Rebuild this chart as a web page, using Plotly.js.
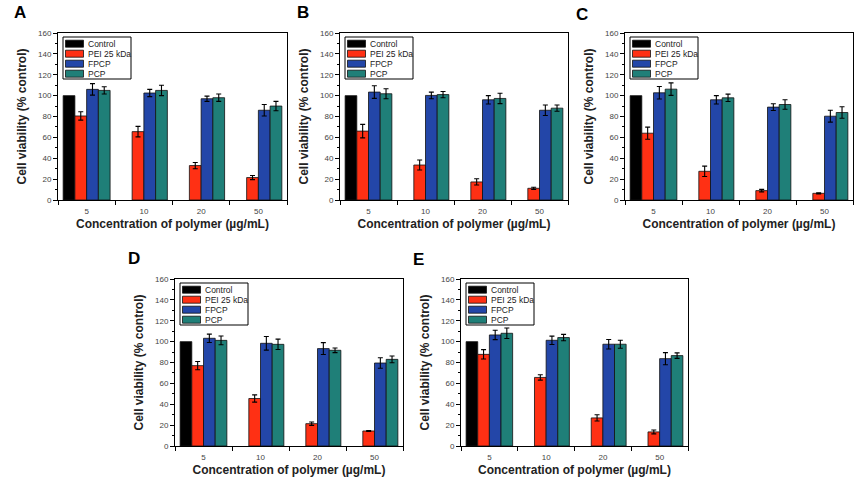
<!DOCTYPE html>
<html>
<head>
<meta charset="utf-8">
<script src="https://cdn.plot.ly/plotly-3.0.1.min.js"></script>
<style>html,body{margin:0;padding:0;background:#fff;}#chart{width:858px;height:484px;}</style>
</head>
<body>
<div id="chart"></div>
<script>
// ---- data ----
const concentrations = ['5', '10', '20', '50'];
const seriesNames = ['Control', 'PEI 25 kDa', 'FPCP', 'PCP'];
const panelLabels = ['A', 'B', 'C', 'D', 'E'];
const xTitle = 'Concentration of polymer (µg/mL)';
const yTitle = 'Cell viability (% control)';
const yTickVals = [0, 20, 40, 60, 80, 100, 120, 140, 160];

const control = [100, null, null, null];

const peiA = [80.5, 65.5, 33, 21.5];
const peiErrA = [4, 5, 3, 2];
const fpcpA = [106, 102.5, 97, 86];
const fpcpErrA = [5.5, 3.5, 2.5, 5.5];
const pcpA = [105, 105, 98, 90];
const pcpErrA = [3.5, 5, 3.5, 4.5];

const peiB = [66, 33.5, 17.3, 11.2];
const peiErrB = [6.5, 4.8, 3, 1];
const fpcpB = [103.4, 100.2, 96, 86];
const fpcpErrB = [6, 3.2, 4, 5];
const pcpB = [101.8, 101, 97.3, 88];
const pcpErrB = [4.8, 3, 5, 3];

const peiC = [64, 27.5, 9, 6.4];
const peiErrC = [5.8, 5, 1.2, 0.5];
const fpcpC = [102.7, 96, 89, 80.3];
const fpcpErrC = [6, 4, 3.2, 5.7];
const pcpC = [106.2, 97.9, 91.5, 83.8];
const pcpErrC = [6, 3.5, 4.5, 5.5];

const peiD = [77, 45.5, 21.4, 14.4];
const peiErrD = [4, 3.5, 1.6, 0.5];
const fpcpD = [103.2, 98.4, 93.3, 79.5];
const fpcpErrD = [4, 6.5, 5.7, 5];
const pcpD = [101.2, 97.4, 91.7, 83];
const pcpErrD = [4.2, 5, 2.2, 3.2];

const peiE = [87.8, 65.7, 26.9, 13.5];
const peiErrE = [4.5, 2.6, 3, 1.9];
const fpcpE = [106.4, 101.3, 97.5, 83.7];
const fpcpErrE = [4.5, 4, 4.5, 5.8];
const pcpE = [108, 103.9, 97.5, 86.6];
const pcpErrE = [5, 3, 3.8, 2.6];

// ---- styles / layout ----
const colors = ['#000000', '#ff3014', '#2346a8', '#1f7f78'];
const W = 858, H = 484;
const FONT = 'Liberation Sans, Arial, Helvetica, sans-serif';

const panels = [
  {pei: peiA, peiErr: peiErrA, fpcp: fpcpA, fpcpErr: fpcpErrA, pcp: pcpA, pcpErr: pcpErrA, box: [58, 287, 33, 200], lab: [19.5, 12]},
  {pei: peiB, peiErr: peiErrB, fpcp: fpcpB, fpcpErr: fpcpErrB, pcp: pcpB, pcpErr: pcpErrB, box: [340, 568, 33, 200], lab: [303, 12]},
  {pei: peiC, peiErr: peiErrC, fpcp: fpcpC, fpcpErr: fpcpErrC, pcp: pcpC, pcpErr: pcpErrC, box: [625, 853, 33, 200], lab: [582, 14]},
  {pei: peiD, peiErr: peiErrD, fpcp: fpcpD, fpcpErr: fpcpErrD, pcp: pcpD, pcpErr: pcpErrD, box: [175, 403, 279, 446], lab: [134, 258]},
  {pei: peiE, peiErr: peiErrE, fpcp: fpcpE, fpcpErr: fpcpErrE, pcp: pcpE, pcpErr: pcpErrE, box: [461, 688, 279, 446], lab: [418, 259]}
];

const traces = [];
const layout = {
  width: W, height: H,
  margin: {l: 0, r: 0, t: 0, b: 0},
  paper_bgcolor: '#ffffff', plot_bgcolor: '#ffffff',
  barmode: 'group', bargap: 0.18, bargroupgap: 0,
  showlegend: false,
  font: {family: FONT, color: '#000'},
  shapes: [], annotations: []
};

panels.forEach((p, i) => {
  const n = i === 0 ? '' : String(i + 1);
  const xa = 'x' + n, ya = 'y' + n;
  const vals = [control, p.pei, p.fpcp, p.pcp];
  const errs = [null, p.peiErr, p.fpcpErr, p.pcpErr];
  vals.forEach((v, k) => {
    const t = {
      type: 'bar', x: concentrations, y: v, name: seriesNames[k],
      xaxis: xa, yaxis: ya,
      marker: {color: colors[k], line: {color: '#111', width: 0.8}},
      hoverinfo: 'x+y+name'
    };
    if (errs[k]) {
      t.error_y = {type: 'data', array: errs[k], visible: true, color: '#000', thickness: 1.1, width: 2.5};
    }
    traces.push(t);
  });
  const [x0, x1, yt, yb] = p.box;
  layout['xaxis' + n] = {
    domain: [x0 / W, x1 / W], anchor: ya,
    type: 'category', tickson: 'boundaries',
    ticks: 'outside', ticklen: 4, tickwidth: 1, tickcolor: '#000',
    ticklabelstandoff: 3,
    showline: true, linecolor: '#000', linewidth: 1, mirror: true,
    showgrid: false, zeroline: false,
    tickfont: {size: 8, color: '#444', family: FONT},
    title: {text: xTitle, font: {size: 12, weight: 700, color: '#222', family: FONT}, standoff: 5}
  };
  layout['yaxis' + n] = {
    domain: [1 - yb / H, 1 - yt / H], anchor: xa,
    range: [0, 160], tickvals: yTickVals, ticktext: yTickVals.map(String),
    ticks: 'outside', ticklen: 4, tickwidth: 1, tickcolor: '#000',
    minor: {dtick: 10, ticks: 'outside', ticklen: 2, tickcolor: '#000', showgrid: false},
    showline: true, linecolor: '#000', linewidth: 1, mirror: true,
    showgrid: false, zeroline: false,
    tickfont: {size: 8, color: '#444', family: FONT},
    title: {text: yTitle, font: {size: 12, weight: 700, color: '#222', family: FONT}, standoff: 8}
  };
  // legend box (drawn inside each panel)
  const common = {xref: xa + ' domain', yref: ya + ' domain', xsizemode: 'pixel', ysizemode: 'pixel', xanchor: 0, yanchor: 1};
  layout.shapes.push(Object.assign({type: 'rect', x0: 5, x1: 73, y0: -4, y1: -46,
    line: {color: '#000', width: 1}, fillcolor: '#fff', layer: 'above'}, common));
  seriesNames.forEach((nm, k) => {
    const cy = -(4 + 6.7 + 10 * k);
    layout.shapes.push(Object.assign({type: 'rect', x0: 7.5, x1: 25.5, y0: cy - 3.5, y1: cy + 3.5,
      line: {color: '#111', width: 0.8}, fillcolor: colors[k], layer: 'above'}, common));
    layout.annotations.push({
      xref: xa + ' domain', yref: ya + ' domain', x: 0, y: 1, xanchor: 'left', yanchor: 'middle',
      xshift: 28, yshift: cy, text: nm, showarrow: false,
      font: {size: 8.5, color: '#222', family: FONT}
    });
  });
  // panel letter
  layout.annotations.push({
    xref: 'paper', yref: 'paper', x: p.lab[0] / W, y: 1 - p.lab[1] / H,
    xanchor: 'center', yanchor: 'middle', showarrow: false,
    text: panelLabels[i], font: {size: 17, weight: 700, color: '#000', family: FONT}
  });
});

Plotly.newPlot('chart', traces, layout, {displayModeBar: false, staticPlot: true});
</script>
</body>
</html>
